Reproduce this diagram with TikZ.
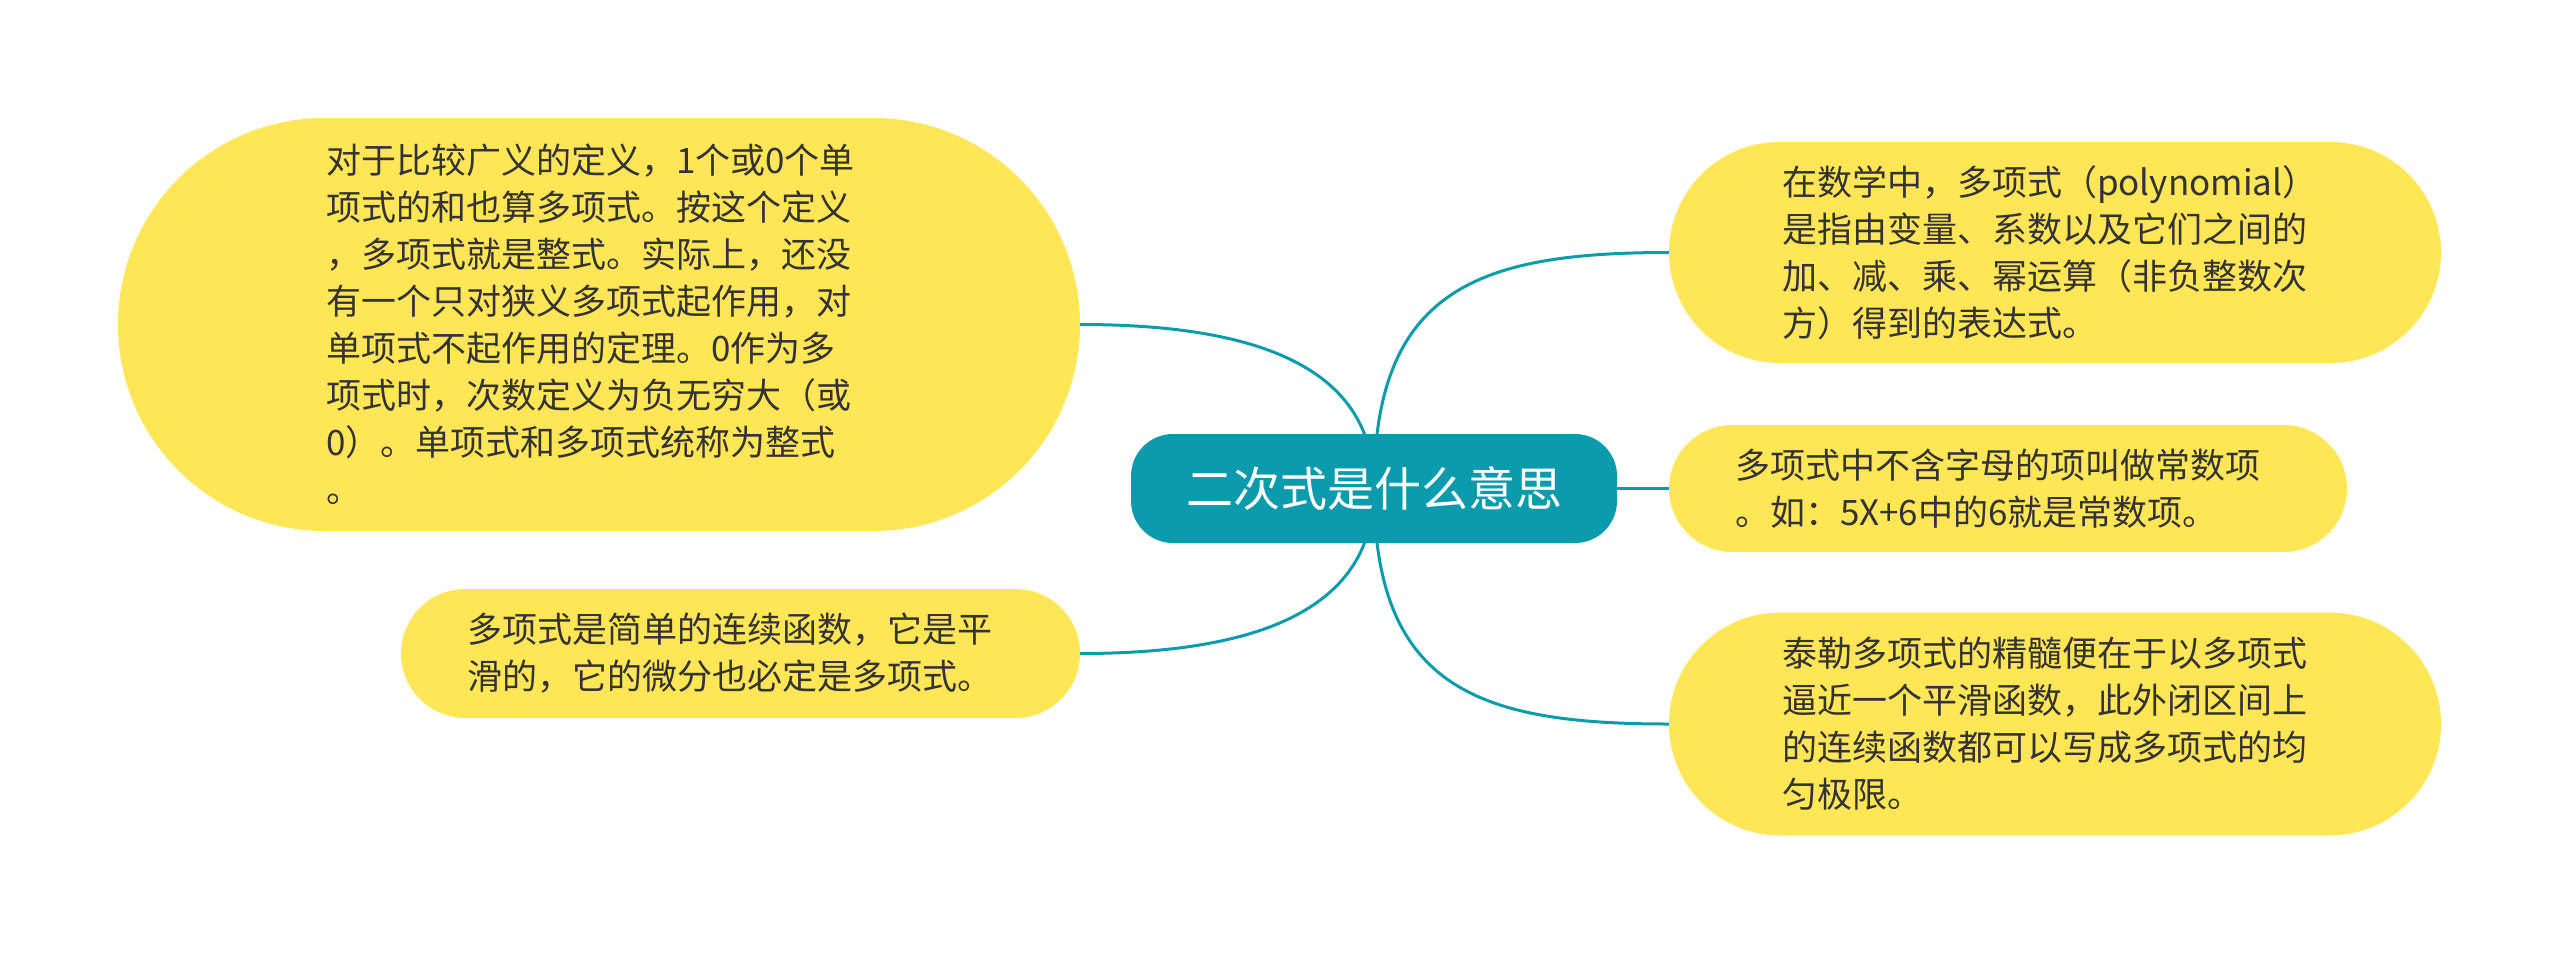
\documentclass[tikz,border=0pt]{standalone}
\usepackage{fontspec}
\usepackage{xcolor}
\usepackage{tikz}
\usetikzlibrary{shapes.misc}
\usetikzlibrary{backgrounds}
\newfontfamily\cjk{Noto Sans CJK SC}
\definecolor{rootteal}{HTML}{0B9BAD}
\definecolor{leafyellow}{HTML}{FFE657}
\definecolor{leaftext}{HTML}{333333}

\begin{document}
\begin{tikzpicture}[x=1pt, y=-1pt,
	rootbox/.style={rectangle, rounded corners=42pt, fill=rootteal, text=white,
		minimum width=486pt, minimum height=109pt, inner sep=0pt,
		font={\cjk\fontsize{47pt}{56pt}\selectfont}},
	leafbox/.style={rounded rectangle, fill=leafyellow, text=leaftext,
		inner xsep=0pt, inner ysep=0pt, text width=546pt, align=left,
		font={\cjk\fontsize{35pt}{47pt}\selectfont}},
	branch/.style={draw=rootteal, line width=3pt}]
	\useasboundingbox (0,0) rectangle (2560,954);
	\node[rootbox] (root) at (1374,488.5) {二次式是什么意思};
	% left side
	\node[leafbox, minimum width=962pt, minimum height=413pt] (defn) at (599,324.5)
		{对于比较广义的定义，1个或0个单\\
		项式的和也算多项式。按这个定义\\
		，多项式就是整式。实际上，还没\\
		有一个只对狭义多项式起作用，对\\
		单项式不起作用的定理。0作为多\\
		项式时，次数定义为负无穷大（或\\
		0）。单项式和多项式统称为整式\\
		。};
	\node[leafbox, minimum width=679pt, minimum height=129pt] (smooth) at (740.5,653.5)
		{多项式是简单的连续函数，它是平\\
		滑的，它的微分也必定是多项式。};
	% right side
	\node[leafbox, minimum width=772pt, minimum height=221pt] (poly) at (2055,252.5)
		{在数学中，多项式（polynomial）\\
		是指由变量、系数以及它们之间的\\
		加、减、乘、幂运算（非负整数次\\
		方）得到的表达式。};
	\node[leafbox, minimum width=678pt, minimum height=127pt] (const) at (2008,488.5)
		{多项式中不含字母的项叫做常数项\\
		。如：5X+6中的6就是常数项。};
	\node[leafbox, minimum width=772pt, minimum height=223pt] (taylor) at (2055,724)
		{泰勒多项式的精髓便在于以多项式\\
		逼近一个平滑函数，此外闭区间上\\
		的连续函数都可以写成多项式的均\\
		匀极限。};
	\begin{scope}[on background layer]
		\draw[branch] (root.center) .. controls +(0,-120) and +(180,0) .. (defn.east);
		\draw[branch] (root.center) .. controls +(0,120) and +(180,0) .. (smooth.east);
		\draw[branch] (root.center) .. controls +(0,-200) and +(-190,0) .. (poly.west);
		\draw[branch] (root) -- (const);
		\draw[branch] (root.center) .. controls +(0,200) and +(-190,0) .. (taylor.west);
	\end{scope}
\end{tikzpicture}
\end{document}
